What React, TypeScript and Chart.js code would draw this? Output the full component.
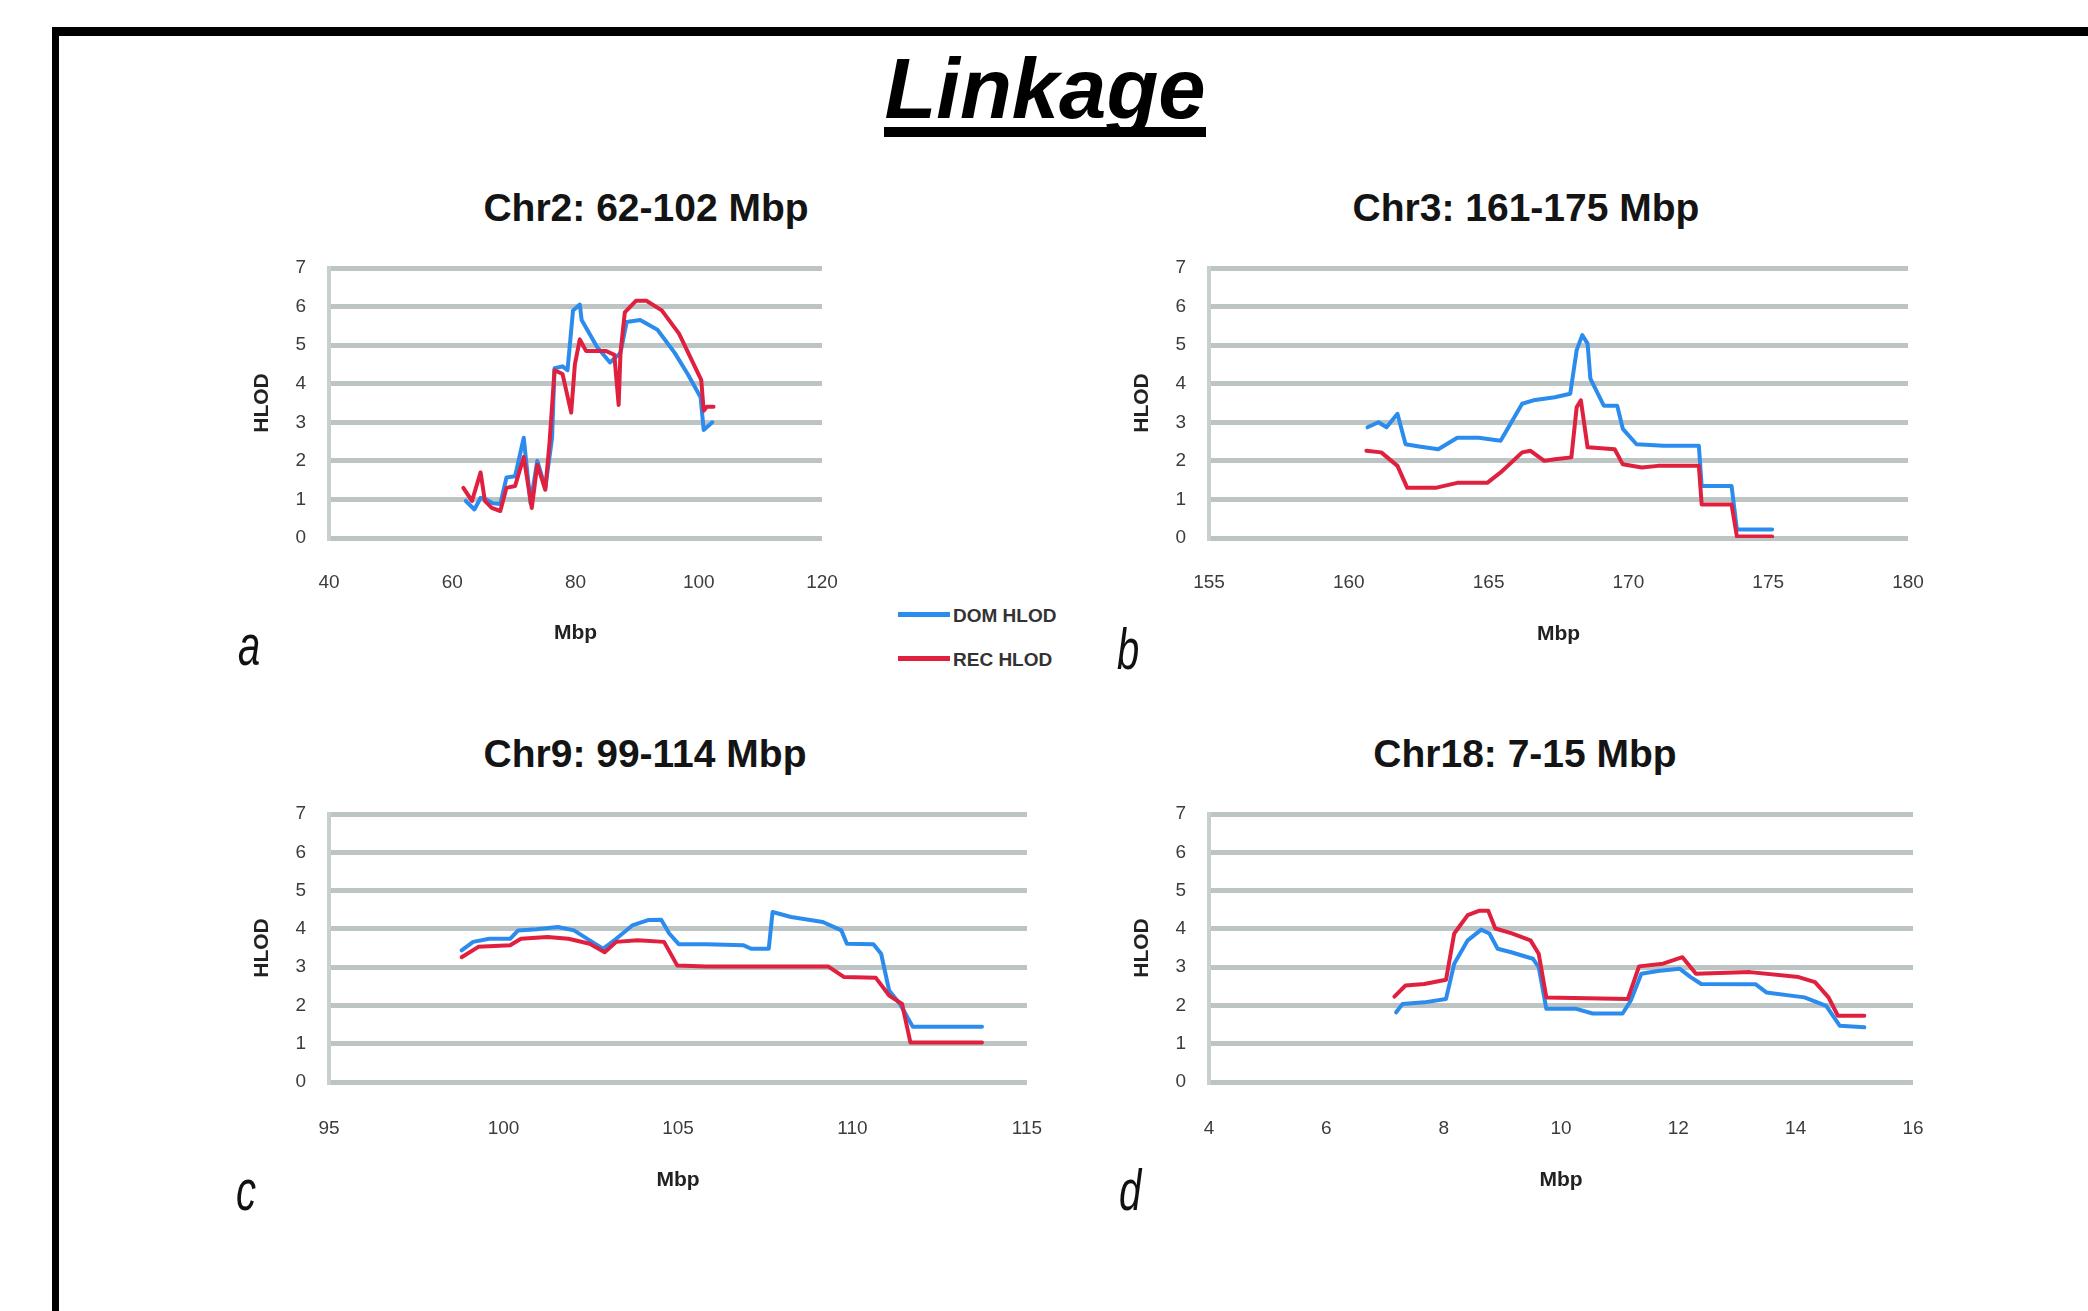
import React, { useEffect, useRef } from "react";
import { Chart, registerables } from "chart.js";

Chart.register(...registerables);

const FONT = "'Liberation Sans', Arial, Helvetica, sans-serif";

const pageTitle = "Linkage";
const seriesLabels = ["DOM HLOD", "REC HLOD"];
const seriesColors = ["#2c8cee", "#e0203f"];
const yTickValues = [0, 1, 2, 3, 4, 5, 6, 7];
const xAxisTitle = "Mbp";
const yAxisTitle = "HLOD";

// Panel a: Chr2
const chr2Title = "Chr2: 62-102 Mbp";
const chr2XTicks = [40, 60, 80, 100, 120];
const chr2DomMbp = [62.2, 63.6, 64.6, 65.5, 66.6, 67.8, 68.8, 70.2, 71.6, 72.7, 73.8, 75.1, 76.2, 76.6, 77.9, 78.7, 79.6, 80.7, 81.0, 83.5, 85.6, 87.3, 88.3, 90.5, 93.3, 96.1, 98.2, 100.3, 100.8, 102.2];
const chr2DomHlod = [0.96, 0.74, 1.04, 1.0, 0.9, 0.88, 1.57, 1.6, 2.6, 0.9, 2.0, 1.3, 2.6, 4.4, 4.45, 4.35, 5.9, 6.05, 5.65, 4.95, 4.55, 4.8, 5.6, 5.65, 5.4, 4.8, 4.25, 3.65, 2.8, 3.0];
const chr2RecMbp = [61.8, 63.2, 64.6, 65.3, 66.4, 67.8, 68.8, 70.2, 71.6, 72.9, 73.8, 75.1, 75.8, 76.6, 77.9, 79.3, 79.9, 80.7, 81.7, 84.9, 86.3, 87.0, 87.3, 88.0, 89.8, 91.5, 94.0, 96.8, 98.9, 100.4, 100.8, 101.3, 102.4];
const chr2RecHlod = [1.3, 0.96, 1.7, 0.96, 0.78, 0.7, 1.3, 1.35, 2.1, 0.78, 1.9, 1.25, 2.5, 4.35, 4.25, 3.25, 4.5, 5.15, 4.85, 4.85, 4.75, 3.45, 4.8, 5.85, 6.15, 6.15, 5.9, 5.3, 4.6, 4.1, 3.3, 3.4, 3.4];

// Panel b: Chr3
const chr3Title = "Chr3: 161-175 Mbp";
const chr3XTicks = [155, 160, 165, 170, 175, 180];
const chr3DomMbp = [160.67, 161.06, 161.35, 161.74, 162.03, 162.52, 163.2, 163.88, 164.65, 165.43, 166.2, 166.6, 167.37, 167.92, 168.15, 168.35, 168.54, 168.64, 169.12, 169.6, 169.8, 170.29, 171.26, 172.52, 172.62, 173.69, 173.88, 175.14];
const chr3DomHlod = [2.87, 3.0, 2.87, 3.22, 2.43, 2.37, 2.3, 2.6, 2.6, 2.52, 3.48, 3.57, 3.65, 3.74, 4.87, 5.26, 5.04, 4.13, 3.43, 3.43, 2.83, 2.43, 2.39, 2.39, 1.35, 1.35, 0.22, 0.22];
const chr3RecMbp = [160.63, 161.16, 161.74, 162.09, 163.1, 163.88, 164.95, 165.43, 166.2, 166.5, 166.99, 167.37, 167.96, 168.15, 168.3, 168.54, 169.51, 169.8, 170.48, 171.06, 172.52, 172.62, 173.69, 173.88, 175.14];
const chr3RecHlod = [2.26, 2.22, 1.87, 1.3, 1.3, 1.43, 1.43, 1.7, 2.22, 2.26, 2.0, 2.04, 2.09, 3.39, 3.57, 2.35, 2.3, 1.91, 1.83, 1.87, 1.87, 0.87, 0.87, 0.04, 0.04];

// Panel c: Chr9
const chr9Title = "Chr9: 99-114 Mbp";
const chr9XTicks = [95, 100, 105, 110, 115];
const chr9DomMbp = [98.8, 99.13, 99.59, 100.19, 100.42, 100.95, 101.56, 102.02, 102.47, 102.85, 103.23, 103.69, 104.14, 104.52, 104.75, 105.02, 105.81, 106.88, 107.1, 107.6, 107.71, 108.24, 109.15, 109.68, 109.84, 110.6, 110.82, 111.05, 111.36, 111.73, 113.71];
const chr9DomHlod = [3.44, 3.66, 3.74, 3.74, 3.96, 3.99, 4.05, 3.96, 3.7, 3.48, 3.74, 4.09, 4.23, 4.24, 3.88, 3.6, 3.6, 3.57, 3.48, 3.48, 4.44, 4.31, 4.18, 3.96, 3.61, 3.6, 3.35, 2.39, 2.04, 1.44, 1.44];
const chr9RecMbp = [98.8, 99.28, 100.19, 100.5, 101.26, 101.86, 102.47, 102.9, 103.23, 103.84, 104.6, 104.98, 105.81, 108.09, 109.3, 109.76, 110.67, 111.05, 111.42, 111.66, 113.71];
const chr9RecHlod = [3.26, 3.53, 3.57, 3.74, 3.79, 3.74, 3.61, 3.39, 3.66, 3.7, 3.66, 3.04, 3.02, 3.02, 3.02, 2.74, 2.72, 2.26, 2.04, 1.03, 1.03];

// Panel d: Chr18
const chr18Title = "Chr18: 7-15 Mbp";
const chr18XTicks = [4, 6, 8, 10, 12, 14, 16];
const chr18DomMbp = [7.19, 7.3, 7.67, 8.04, 8.18, 8.41, 8.64, 8.78, 8.92, 9.15, 9.52, 9.62, 9.75, 10.26, 10.54, 11.05, 11.19, 11.37, 11.65, 12.02, 12.21, 12.39, 13.32, 13.5, 14.15, 14.52, 14.75, 15.17];
const chr18DomHlod = [1.82, 2.04, 2.08, 2.17, 3.09, 3.7, 3.98, 3.88, 3.48, 3.39, 3.22, 3.0, 1.91, 1.91, 1.79, 1.79, 2.13, 2.83, 2.9, 2.96, 2.74, 2.56, 2.55, 2.34, 2.21, 1.99, 1.47, 1.43];
const chr18RecMbp = [7.16, 7.35, 7.67, 8.04, 8.18, 8.41, 8.6, 8.76, 8.88, 9.15, 9.48, 9.62, 9.75, 11.14, 11.33, 11.74, 12.07, 12.3, 13.22, 14.05, 14.33, 14.56, 14.72, 15.17];
const chr18RecHlod = [2.23, 2.52, 2.56, 2.67, 3.88, 4.36, 4.47, 4.47, 4.01, 3.89, 3.7, 3.35, 2.21, 2.17, 3.02, 3.09, 3.26, 2.83, 2.87, 2.74, 2.61, 2.21, 1.73, 1.73];

const GRID_COLOR = "#bcc5c3";
const AXIS_COLOR = "#c8d0ce";
const TICK_COLOR = "#3c3c3c";
const Y_W = 90;
const X_H = 120;
const PAD_T = 50;
const PAD_R = 70;

type Panel = {
  title: string;
  letter: string;
  xTicks: number[];
  domX: number[];
  domY: number[];
  recX: number[];
  recY: number[];
  area: { left: number; top: number; right: number; bottom: number };
  titleX: number;
  titleTop: number;
  letterX: number;
  letterBase: number;
  mbpOffset: number;
  tickOffset: number;
};

const panels: Panel[] = [
  {
    title: chr2Title, letter: "a", xTicks: chr2XTicks,
    domX: chr2DomMbp, domY: chr2DomHlod, recX: chr2RecMbp, recY: chr2RecHlod,
    area: { left: 329, top: 268, right: 822, bottom: 538 },
    titleX: 646, titleTop: 188, letterX: 249, letterBase: 665, mbpOffset: 95.5, tickOffset: 44.5,
  },
  {
    title: chr3Title, letter: "b", xTicks: chr3XTicks,
    domX: chr3DomMbp, domY: chr3DomHlod, recX: chr3RecMbp, recY: chr3RecHlod,
    area: { left: 1209, top: 268, right: 1908, bottom: 538 },
    titleX: 1526, titleTop: 188, letterX: 1128, letterBase: 669, mbpOffset: 96.5, tickOffset: 44.5,
  },
  {
    title: chr9Title, letter: "c", xTicks: chr9XTicks,
    domX: chr9DomMbp, domY: chr9DomHlod, recX: chr9RecMbp, recY: chr9RecHlod,
    area: { left: 329, top: 814, right: 1027, bottom: 1082 },
    titleX: 645, titleTop: 734, letterX: 246, letterBase: 1210, mbpOffset: 98.5, tickOffset: 47,
  },
  {
    title: chr18Title, letter: "d", xTicks: chr18XTicks,
    domX: chr18DomMbp, domY: chr18DomHlod, recX: chr18RecMbp, recY: chr18RecHlod,
    area: { left: 1209, top: 814, right: 1913, bottom: 1082 },
    titleX: 1525, titleTop: 734, letterX: 1130, letterBase: 1210, mbpOffset: 98.5, tickOffset: 47,
  },
];

function ChartPanel({ p }: { p: Panel }) {
  const ref = useRef<HTMLCanvasElement>(null);
  const w = p.area.right - p.area.left + Y_W + PAD_R;
  const h = p.area.bottom - p.area.top + PAD_T + X_H;

  useEffect(() => {
    const canvas = ref.current;
    if (!canvas) return;
    const tickFont = { size: 19, family: FONT };
    const titleFont = { size: 21, weight: "bold" as const, family: FONT };
    const lineH = 21 * 1.2;
    const chart = new Chart(canvas, {
      type: "line",
      data: {
        datasets: [
          {
            label: seriesLabels[0],
            data: p.domX.map((x, i) => ({ x, y: p.domY[i] })),
            borderColor: seriesColors[0],
            backgroundColor: seriesColors[0],
            borderWidth: 4,
            pointRadius: 0,
            tension: 0,
            fill: false,
            order: 1,
            borderJoinStyle: "round",
            borderCapStyle: "round",
          },
          {
            label: seriesLabels[1],
            data: p.recX.map((x, i) => ({ x, y: p.recY[i] })),
            borderColor: seriesColors[1],
            backgroundColor: seriesColors[1],
            borderWidth: 4,
            pointRadius: 0,
            tension: 0,
            fill: false,
            order: 0,
            borderJoinStyle: "round",
            borderCapStyle: "round",
          },
        ],
      },
      options: {
        responsive: false,
        animation: false,
        devicePixelRatio: 1,
        layout: { padding: { left: 0, top: PAD_T, right: PAD_R, bottom: 0 } },
        plugins: {
          legend: { display: false },
          tooltip: { enabled: false },
          title: { display: false },
        },
        scales: {
          x: {
            type: "linear",
            min: p.xTicks[0],
            max: p.xTicks[p.xTicks.length - 1],
            afterBuildTicks: (s: any) => {
              s.ticks = p.xTicks.map((v) => ({ value: v }));
            },
            afterFit: (s: any) => {
              s.height = X_H;
            },
            grid: { display: false, drawTicks: false },
            border: { display: false },
            ticks: {
              padding: p.tickOffset - 19 * 0.6,
              color: TICK_COLOR,
              font: tickFont,
              maxRotation: 0,
              autoSkip: false,
            },
            title: {
              display: true,
              text: xAxisTitle,
              color: "#222",
              font: titleFont,
              padding: { top: 0, bottom: X_H - lineH / 2 - p.mbpOffset },
            },
          },
          y: {
            type: "linear",
            min: 0,
            max: 7,
            afterBuildTicks: (s: any) => {
              s.ticks = yTickValues.map((v) => ({ value: v }));
            },
            afterFit: (s: any) => {
              s.width = Y_W;
            },
            grid: { color: GRID_COLOR, lineWidth: 5, drawTicks: false },
            border: { display: true, color: AXIS_COLOR, width: 4 },
            ticks: {
              padding: 23,
              color: TICK_COLOR,
              font: tickFont,
              autoSkip: false,
            },
            title: {
              display: true,
              text: yAxisTitle,
              color: "#222",
              font: titleFont,
              padding: { top: Y_W - 67 - lineH / 2, bottom: 0 },
            },
          },
        },
      },
    } as any);
    return () => chart.destroy();
  }, []);

  return (
    <canvas
      ref={ref}
      width={w}
      height={h}
      style={{
        position: "absolute",
        left: p.area.left - Y_W,
        top: p.area.top - PAD_T,
        width: w,
        height: h,
      }}
    />
  );
}

export default function App() {
  useEffect(() => {
    document.body.style.margin = "0";
  }, []);

  const textBase = { position: "absolute" as const, fontFamily: FONT, whiteSpace: "nowrap" as const };

  return (
    <div
      style={{
        position: "absolute",
        left: 0,
        top: 0,
        width: 2088,
        height: 1311,
        background: "#ffffff",
        overflow: "hidden",
        fontFamily: FONT,
      }}
    >
      {/* frame */}
      <div style={{ position: "absolute", left: 52, top: 27, width: 2036, height: 9, background: "#000" }} />
      <div style={{ position: "absolute", left: 52, top: 27, width: 7, height: 1284, background: "#000" }} />

      {/* main title */}
      <div
        style={{
          ...textBase,
          left: 1045 - 300,
          width: 600,
          top: 46,
          textAlign: "center",
          fontSize: 85,
          lineHeight: "85px",
          fontWeight: "bold",
          fontStyle: "italic",
          color: "#000",
        }}
      >
        {pageTitle}
      </div>
      <div style={{ position: "absolute", left: 884, top: 127, width: 322, height: 10, background: "#000" }} />

      {panels.map((p) => (
        <React.Fragment key={p.letter}>
          <div
            style={{
              ...textBase,
              left: p.titleX - 300,
              width: 600,
              top: p.titleTop,
              textAlign: "center",
              fontSize: 39,
              lineHeight: "39px",
              fontWeight: "bold",
              color: "#141414",
            }}
          >
            {p.title}
          </div>
          <div
            style={{
              ...textBase,
              left: p.letterX - 50,
              width: 100,
              top: p.letterBase - 34,
              textAlign: "center",
              fontSize: 40,
              lineHeight: "40px",
              fontStyle: "italic",
              color: "#111",
            }}
          >
            <span style={{ display: "inline-block", transform: "scale(1, 1.45)", transformOrigin: "50% 34px" }}>
              {p.letter}
            </span>
          </div>
          <ChartPanel p={p} />
        </React.Fragment>
      ))}

      {/* legend */}
      <div style={{ position: "absolute", left: 898, top: 611.5, width: 52, height: 5, background: seriesColors[0] }} />
      <div style={{ position: "absolute", left: 898, top: 655.5, width: 52, height: 5, background: seriesColors[1] }} />
      <div style={{ ...textBase, left: 953, top: 606, fontSize: 19, lineHeight: "19px", fontWeight: "bold", color: "#333" }}>
        {seriesLabels[0]}
      </div>
      <div style={{ ...textBase, left: 953, top: 650, fontSize: 19, lineHeight: "19px", fontWeight: "bold", color: "#333" }}>
        {seriesLabels[1]}
      </div>
    </div>
  );
}
